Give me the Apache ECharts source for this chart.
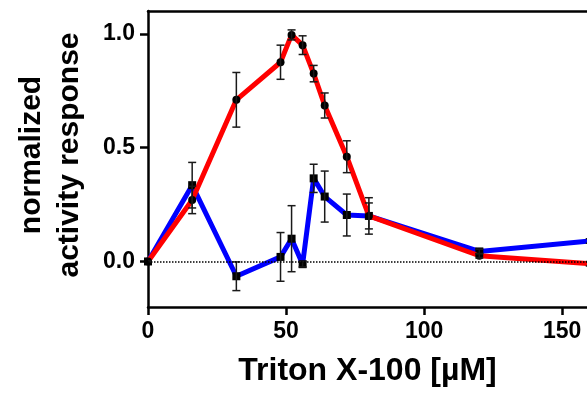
<!DOCTYPE html>
<html>
<head>
<meta charset="utf-8">
<script src="https://cdn.jsdelivr.net/npm/echarts@6/dist/echarts.min.js"></script>
<style>
  html, body { margin: 0; padding: 0; background: #fff; }
  #chart { width: 587px; height: 393px; }
</style>
</head>
<body>
<div id="chart"></div>
<script>
// Triton X-100 concentration (uM)
const conc = [0, 16, 32, 48, 52, 56, 60, 64, 72, 80, 120, 160];
// red series (circles)
const redMean = [0, 0.27, 0.71, 0.875, 0.995, 0.95, 0.825, 0.685, 0.46, 0.2, 0.025, -0.01];
const redErr = [0, 0.06, 0.12, 0.075, 0.022, 0.041, 0.036, 0.055, 0.07, 0.08, 0.01, 0.01];
// blue series (squares)
const blueMean = [0, 0.335, -0.065, 0.02, 0.1, -0.012, 0.365, 0.285, 0.204, 0.2, 0.044, 0.09];
const blueErr = [0, 0.1, 0.063, 0.107, 0.145, 0.012, 0.062, 0.112, 0.092, 0.057, 0.01, 0.01];
const xTicks = [0, 50, 100, 150];
const yTicks = [0, 0.5, 1.0];

const font = '"Liberation Sans", Arial, sans-serif';

function pairs(ys) {
  return conc.map((x, i) => [x, ys[i]]);
}
function errData(ys, es) {
  return conc.map((x, i) => [x, ys[i] - es[i], ys[i] + es[i]]);
}

function errorBars(params, api) {
  const x = api.value(0);
  const lo = api.coord([x, api.value(1)]);
  const hi = api.coord([x, api.value(2)]);
  const w = 4;
  const style = { stroke: '#1a1a1a', lineWidth: 1.5 };
  return {
    type: 'group',
    children: [
      { type: 'line', shape: { x1: lo[0], y1: lo[1], x2: hi[0], y2: hi[1] }, style },
      { type: 'line', shape: { x1: lo[0] - w, y1: lo[1], x2: lo[0] + w, y2: lo[1] }, style },
      { type: 'line', shape: { x1: hi[0] - w, y1: hi[1], x2: hi[0] + w, y2: hi[1] }, style }
    ]
  };
}

const chart = echarts.init(document.getElementById('chart'));
chart.setOption({
  animation: false,
  grid: { left: 148, right: 0, top: 11, bottom: 86 },
  xAxis: [
    {
      type: 'value',
      min: 0,
      max: 159,
      splitLine: { show: false },
      axisLine: { onZero: false, lineStyle: { color: '#000', width: 2.5 } },
      axisTick: { customValues: xTicks, length: 8, lineStyle: { color: '#000', width: 2.5 } },
      axisLabel: {
        customValues: xTicks, margin: 13,
        color: '#000', fontFamily: font, fontWeight: 'bold', fontSize: 23
      },
      name: 'Triton X-100 [µM]',
      nameLocation: 'middle',
      nameGap: 48,
      nameTextStyle: { color: '#000', fontFamily: font, fontWeight: 'bold', fontSize: 32 }
    },
    {
      type: 'value',
      position: 'top',
      min: 0,
      max: 159,
      splitLine: { show: false },
      axisLine: { onZero: false, lineStyle: { color: '#000', width: 2.5 } },
      axisTick: { show: false },
      axisLabel: { show: false }
    }
  ],
  yAxis: {
    type: 'value',
    min: -0.2,
    max: 1.1,
    splitLine: { show: false },
    axisLine: { show: true, onZero: false, lineStyle: { color: '#000', width: 2.5 } },
    axisTick: { show: true, customValues: yTicks, length: 8, lineStyle: { color: '#000', width: 2.5 } },
    axisLabel: {
      customValues: yTicks, margin: 13,
      color: '#000', fontFamily: font, fontWeight: 'bold', fontSize: 23,
      formatter: v => v.toFixed(1)
    }
  },
  graphic: [
    {
      type: 'text',
      x: 51,
      y: 155,
      rotation: Math.PI / 2,
      style: {
        text: 'normalized\nactivity response',
        fill: '#000',
        font: 'bold 30px ' + font,
        lineHeight: 38,
        align: 'center',
        verticalAlign: 'middle'
      }
    }
  ],
  series: [
    {
      name: 'blue',
      type: 'line',
      data: pairs(blueMean),
      z: 2,
      symbol: 'rect',
      symbolSize: 8,
      itemStyle: { color: '#000' },
      lineStyle: { color: '#0000ff', width: 5 },
      markLine: {
        silent: true,
        symbol: 'none',
        label: { show: false },
        lineStyle: { color: '#000', type: 'dotted', width: 1.5 },
        data: [{ yAxis: 0 }]
      }
    },
    {
      name: 'red',
      type: 'line',
      data: pairs(redMean),
      z: 3,
      symbol: 'circle',
      symbolSize: 8,
      itemStyle: { color: '#000' },
      lineStyle: { color: '#ff0000', width: 5 }
    },
    {
      type: 'custom',
      renderItem: errorBars,
      data: errData(redMean, redErr),
      clip: true,
      z: 4
    },
    {
      type: 'custom',
      renderItem: errorBars,
      data: errData(blueMean, blueErr),
      clip: true,
      z: 4
    }
  ]
});
</script>
</body>
</html>
